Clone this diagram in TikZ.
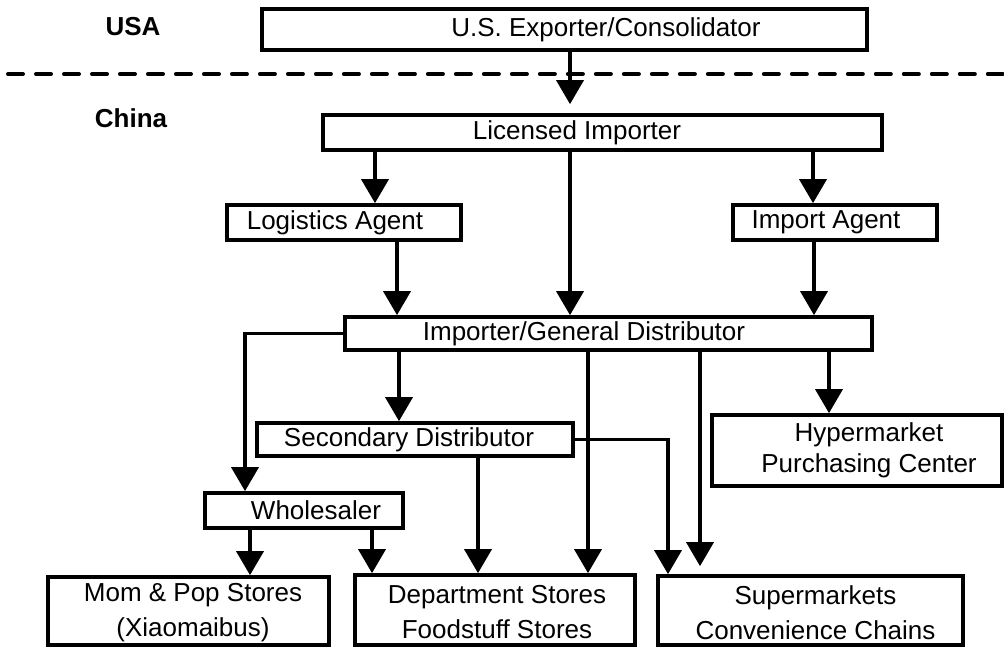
\documentclass[tikz,border=0pt]{standalone}
\usepackage{fontspec}
\setmainfont{Liberation Sans}
\usetikzlibrary{arrows.meta}

\begin{document}
\begin{tikzpicture}[x=0.02cm,y=-0.02cm,
  every node/.style={font=\fontsize{14.8}{20}\selectfont},
  box/.style={draw,line width=2.1pt,inner sep=0pt},
  flow/.style={line width=2.1pt,-{Triangle[width=0.54cm,length=0.48cm]}}]
  \useasboundingbox (0,0) rectangle (1004,646);
  \node[font=\fontsize{14.8}{20}\selectfont\bfseries] (usa) at (133,27) {USA};
  \node[font=\fontsize{14.8}{20}\selectfont\bfseries] (china) at (131,118) {China};
  \draw[line width=0.08cm,line cap=round,dash pattern=on 0.3cm off 0.26cm] (8,74) -- (1004,74);

  \node[box,minimum width=12.1cm,minimum height=0.82cm,label={[xshift=0.83cm]center:U.S. Exporter/Consolidator}] (exporter) at (564.5,29.5) {};
  \node[box,minimum width=11.18cm,minimum height=0.7cm,label={[xshift=-0.51cm]center:Licensed Importer}] (licensed) at (602.5,132.5) {};
  \node[box,minimum width=4.68cm,minimum height=0.7cm,label={[xshift=-0.18cm]center:Logistics Agent}] (logistics) at (344,222.5) {};
  \node[box,minimum width=4.08cm,minimum height=0.7cm,label={[xshift=-0.18cm]center:Import Agent}] (agent) at (835,222.5) {};
  \node[box,minimum width=10.54cm,minimum height=0.66cm,label={[xshift=-0.49cm]center:Importer/General Distributor}] (general) at (608.5,333.5) {};
  \node[box,minimum width=6.32cm,minimum height=0.66cm,label={[xshift=-0.12cm]center:Secondary Distributor}] (secondary) at (415,439.5) {};
  \node[box,minimum width=5.8cm,minimum height=1.42cm,label={[xshift=0.24cm,align=center,font=\fontsize{14.8}{17.6}\selectfont]center:{Hypermarket\\Purchasing Center}}] (hyper) at (857,450.5) {};
  \node[box,minimum width=3.96cm,minimum height=0.7cm,label={[xshift=0.24cm]center:Wholesaler}] (wholesaler) at (304,510.5) {};
  \node[box,minimum width=5.62cm,minimum height=1.36cm,label={[xshift=0.09cm,yshift=-0.04cm,align=center]center:{Mom \& Pop Stores\\(Xiaomaibus)}}] (mompop) at (188.5,611) {};
  \node[box,minimum width=5.6cm,minimum height=1.4cm,label={[xshift=0.04cm,yshift=-0.04cm,align=center]center:{Department Stores\\Foodstuff Stores}}] (department) at (495,610) {};
  \node[box,minimum width=6.1cm,minimum height=1.38cm,label={[xshift=0.1cm,yshift=-0.04cm,align=center]center:{Supermarkets\\Convenience Chains}}] (supermarket) at (810.5,610.5) {};

  \draw[flow,shorten >=0.18cm] (exporter.south -| 570,0) -- (licensed.north -| 570,0);
  \draw[flow] (licensed.south -| 375,0) -- (logistics.north -| 375,0);
  \draw[flow] (licensed.south -| 570,0) -- (general.north -| 570,0);
  \draw[flow] (licensed.south -| 813,0) -- (agent.north -| 813,0);
  \draw[flow] (logistics.south -| 397,0) -- (general.north -| 397,0);
  \draw[flow] (agent.south -| 814,0) -- (general.north -| 814,0);
  \draw[flow] (general.west) -| (wholesaler.north -| 245,0);
  \draw[flow] (general.south -| 399,0) -- (secondary.north -| 399,0);
  \draw[flow] (general.south -| 588,0) -- (department.north -| 588,0);
  \draw[flow,shorten >=0.16cm] (general.south -| 700,0) -- (supermarket.north -| 700,0);
  \draw[flow] (general.south -| 829,0) -- (hyper.north -| 829,0);
  \draw[flow] (secondary.east) -| (supermarket.north -| 668,0);
  \draw[flow] (secondary.south -| 478,0) -- (department.north -| 478,0);
  \draw[flow] (wholesaler.south -| 250,0) -- (mompop.north -| 250,0);
  \draw[flow] (wholesaler.south -| 372,0) -- (department.north -| 372,0);
\end{tikzpicture}
\end{document}
